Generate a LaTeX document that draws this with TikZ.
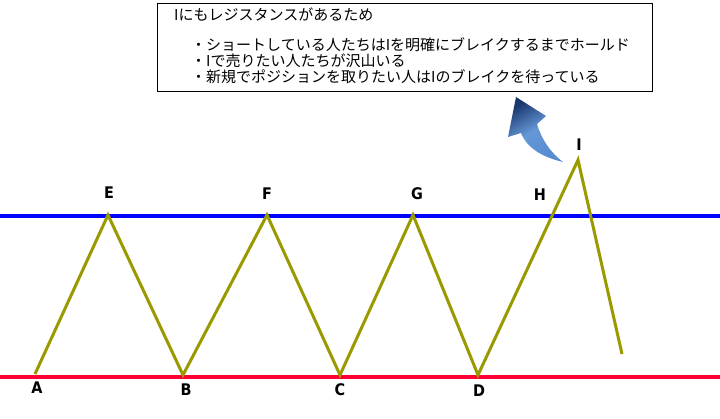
\documentclass[tikz,border=0pt]{standalone}
\usepackage{fontspec}
\setmainfont{DejaVu Sans}
\newfontfamily\jp{Noto Sans CJK JP}
\newfontfamily\lblfont{DejaVu Sans Condensed}
\definecolor{olivez}{RGB}{153,153,0}
\definecolor{blueln}{RGB}{0,0,255}
\definecolor{redln}{RGB}{255,0,51}
\definecolor{arrdark}{RGB}{25,55,110}
\definecolor{arrlight}{RGB}{85,140,210}
\begin{document}
\begin{tikzpicture}[x=1pt,y=-1pt,
  zig/.style={draw=olivez,line width=3pt,line join=miter},
  resline/.style={draw=blueln,line width=4pt},
  supline/.style={draw=redln,line width=4pt},
  ptlabel/.style={font=\lblfont\bfseries\fontsize{16}{16}\selectfont,inner sep=0pt},
  jptext/.style={font=\jp\fontsize{15}{16}\selectfont,anchor=base west,inner sep=0pt},
  notebox/.style={draw=black,line width=0.8pt,minimum width=495pt,minimum height=88pt,inner sep=0pt}]
\useasboundingbox (0,0) rectangle (720,419);
% box
\node[notebox] (box) at (404.5,47) {};
\node[jptext] (t1) at (174,21) {Iにもレジスタンスがあるため};
\node[jptext] (t2) at (191,51) {・ショートしている人たちはIを明確にブレイクするまでホールド};
\node[jptext] (t3) at (191,67) {・Iで売りたい人たちが沢山いる};
\node[jptext] (t4) at (191,83) {・新規でポジションを取りたい人はIのブレイクを待っている};
% lines
\coordinate (bl) at (0,216);
\coordinate (br) at (720,216);
\coordinate (rl) at (0,377);
\coordinate (rr) at (720,377);
\draw[resline] (bl) -- (br);
\draw[supline] (rl) -- (rr);
% zigzag
\coordinate (A) at (35,374);
\coordinate (E) at (108,215);
\coordinate (B) at (183,375);
\coordinate (F) at (267,215);
\coordinate (C) at (340,375);
\coordinate (G) at (413,215);
\coordinate (D) at (478,375);
\coordinate (I) at (578,160);
\coordinate (Z) at (622,354);
\draw[zig] (A) -- (E) -- (B) -- (F) -- (C) -- (G) -- (D) -- (I) -- (Z);
% labels
\node[ptlabel] (lA) at (37,388) {A};
\node[ptlabel] (lB) at (186,390) {B};
\node[ptlabel] (lC) at (340,390) {C};
\node[ptlabel] (lD) at (479,391) {D};
\node[ptlabel] (lE) at (109,193) {E};
\node[ptlabel] (lF) at (267,194) {F};
\node[ptlabel] (lG) at (417,194) {G};
\node[ptlabel] (lH) at (540,195) {H};
\node[ptlabel] (lI) at (579,145) {I};
% curved arrow
\shade[top color=arrdark,bottom color=arrlight,middle color=arrlight!90!white,shading angle=30]
  (516,97) -- (546,116) -- (537,124)
  .. controls (542,140) and (550,152) .. (563,162)
  .. controls (542,157) and (527,148) .. (521,133)
  -- (508,137) -- cycle;
\end{tikzpicture}
\end{document}
